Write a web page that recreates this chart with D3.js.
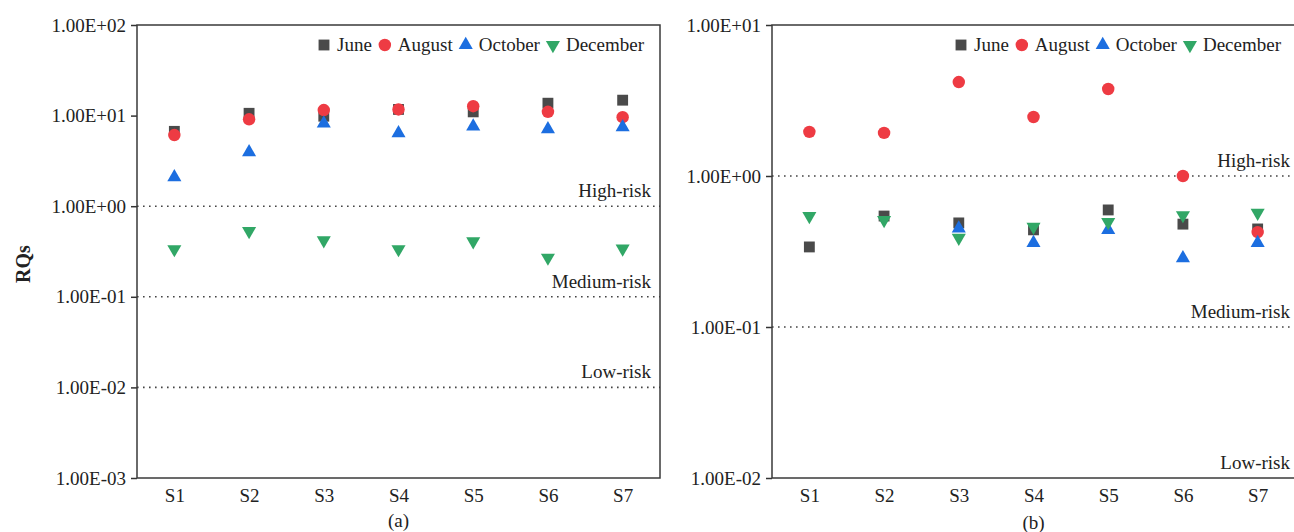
<!DOCTYPE html>
<html>
<head>
<meta charset="utf-8">
<script src="https://cdn.jsdelivr.net/npm/d3@7"></script>
<style>
  html, body { margin: 0; padding: 0; background: #fff; }
  svg { display: block; }
  text { font-family: "Liberation Serif", "Times New Roman", serif; fill: #222; }
</style>
</head>
<body>
<svg id="chart" width="1294" height="532"></svg>
<script>
// Sampling sites
const sites = ["S1", "S2", "S3", "S4", "S5", "S6", "S7"];
const months = ["June", "August", "October", "December"];

// Panel (a) risk quotients
const juneA     = [6.7, 10.6, 9.85, 11.7, 11.0, 13.7, 14.8];
const augustA   = [6.1, 9.1, 11.5, 11.7, 12.7, 11.0, 9.6];
const octoberA  = [2.09, 3.95, 8.2, 6.4, 7.6, 7.07, 7.45];
const decemberA = [0.335, 0.53, 0.42, 0.335, 0.41, 0.27, 0.34];

// Panel (b) risk quotients (null = not shown)
const juneB     = [0.339, 0.543, 0.489, 0.44, 0.596, 0.48, 0.446];
const augustB   = [1.96, 1.93, 4.19, 2.46, 3.77, 1.0, 0.425];
const octoberB  = [null, null, 0.45, 0.36, 0.44, 0.286, 0.36];
const decemberB = [0.543, 0.51, 0.39, 0.46, 0.495, 0.55, 0.57];

// Axis tick labels
const ticksA = ["1.00E-03", "1.00E-02", "1.00E-01", "1.00E+00", "1.00E+01", "1.00E+02"];
const ticksB = ["1.00E-02", "1.00E-01", "1.00E+00", "1.00E+01"];

// Risk thresholds
const riskLevels = [1, 0.1, 0.01];
const riskNames = ["High-risk", "Medium-risk", "Low-risk"];

// Marker style per month
const markerStyle = {
  June:     { type: d3.symbolSquare,   size: 118, rot: 0,   color: "#4a4a4a" },
  August:   { type: d3.symbolCircle,   size: 122, rot: 0,   color: "#ee3b43" },
  October:  { type: d3.symbolTriangle, size: 86,  rot: 0,   color: "#1c6ee0" },
  December: { type: d3.symbolTriangle, size: 86,  rot: 180, color: "#31a766" }
};

const svg = d3.select("#chart");
const FONT = 19;

function drawPanel(cfg) {
  const g = svg.append("g");
  const x = d3.scalePoint().domain(sites).range([cfg.left, cfg.right]).padding(0.5);
  const ticks = cfg.tickLabels.map(Number);
  const y = d3.scaleLog().domain([d3.min(ticks), d3.max(ticks)]).range([cfg.bottom, cfg.top]);

  // risk threshold lines and labels
  riskLevels.forEach((lv, i) => {
    if (lv > y.domain()[0]) {
      g.append("line")
        .attr("x1", cfg.left).attr("x2", cfg.right)
        .attr("y1", y(lv)).attr("y2", y(lv))
        .attr("stroke", "#444").attr("stroke-width", 1.6)
        .attr("stroke-dasharray", "1.6,4.4");
    }
    g.append("text")
      .attr("x", cfg.riskX).attr("y", y(lv) - 9)
      .attr("text-anchor", "end")
      .style("font-size", FONT + "px")
      .text(riskNames[i]);
  });

  // y axis
  const yAxis = d3.axisLeft(y)
    .tickValues(ticks)
    .tickFormat((d, i) => cfg.tickLabels[i])
    .tickSize(6).tickPadding(5);
  const ya = g.append("g").attr("transform", `translate(${cfg.left},0)`).call(yAxis);
  ya.select(".domain").remove();
  ya.selectAll(".tick line").attr("stroke", "#333").attr("stroke-width", 1.5);
  ya.selectAll(".tick text").style("font-size", FONT + "px").style("font-family", "Liberation Serif").attr("fill", "#222");

  // x axis
  const xAxis = d3.axisBottom(x).tickSize(0).tickPadding(11);
  const xa = g.append("g").attr("transform", `translate(0,${cfg.bottom})`).call(xAxis);
  xa.select(".domain").remove();
  xa.selectAll(".tick text").style("font-size", FONT + "px").style("font-family", "Liberation Serif").attr("fill", "#222");

  // frame
  g.append("rect")
    .attr("x", cfg.left).attr("y", cfg.top)
    .attr("width", cfg.right - cfg.left).attr("height", cfg.bottom - cfg.top)
    .attr("fill", "none").attr("stroke", "#3a3a3a").attr("stroke-width", 1.5);

  // markers
  months.forEach((m, k) => {
    const st = markerStyle[m];
    const sym = d3.symbol().type(st.type).size(st.size);
    const pts = cfg.series[k].map((v, i) => ({ site: sites[i], v })).filter(d => d.v != null);
    g.append("g").selectAll("path").data(pts).join("path")
      .attr("d", sym)
      .attr("transform", d => `translate(${x(d.site)},${y(d.v)}) rotate(${st.rot})`)
      .attr("fill", st.color);
  });

  // legend
  const lg = g.append("g");
  let cx = cfg.legendX;
  months.forEach(m => {
    const st = markerStyle[m];
    lg.append("path")
      .attr("d", d3.symbol().type(st.type).size(st.size))
      .attr("transform", `translate(${cx},${cfg.legendY}) rotate(${st.rot})`)
      .attr("fill", st.color);
    const t = lg.append("text")
      .attr("x", cx + 13).attr("y", cfg.legendY)
      .attr("dy", "0.33em")
      .style("font-size", FONT + "px")
      .text(m);
    cx = cx + 13 + t.node().getComputedTextLength() + 13;
  });

  // caption
  g.append("text")
    .attr("x", (x("S4"))).attr("y", cfg.captionY)
    .attr("text-anchor", "middle")
    .style("font-size", FONT + "px")
    .text(cfg.caption);
}

drawPanel({
  left: 137, right: 660, top: 25, bottom: 478,
  tickLabels: ticksA,
  series: [juneA, augustA, octoberA, decemberA],
  riskX: 651, legendX: 324, legendY: 45,
  caption: "(a)", captionY: 527
});

drawPanel({
  left: 772, right: 1295, top: 25, bottom: 478,
  tickLabels: ticksB,
  series: [juneB, augustB, octoberB, decemberB],
  riskX: 1290, legendX: 961, legendY: 45,
  caption: "(b)", captionY: 529
});

// shared y title
svg.append("text")
  .attr("transform", "translate(30,264) rotate(-90)")
  .attr("text-anchor", "middle")
  .style("font-size", "20px")
  .style("font-weight", "bold")
  .text("RQs");
</script>
</body>
</html>
